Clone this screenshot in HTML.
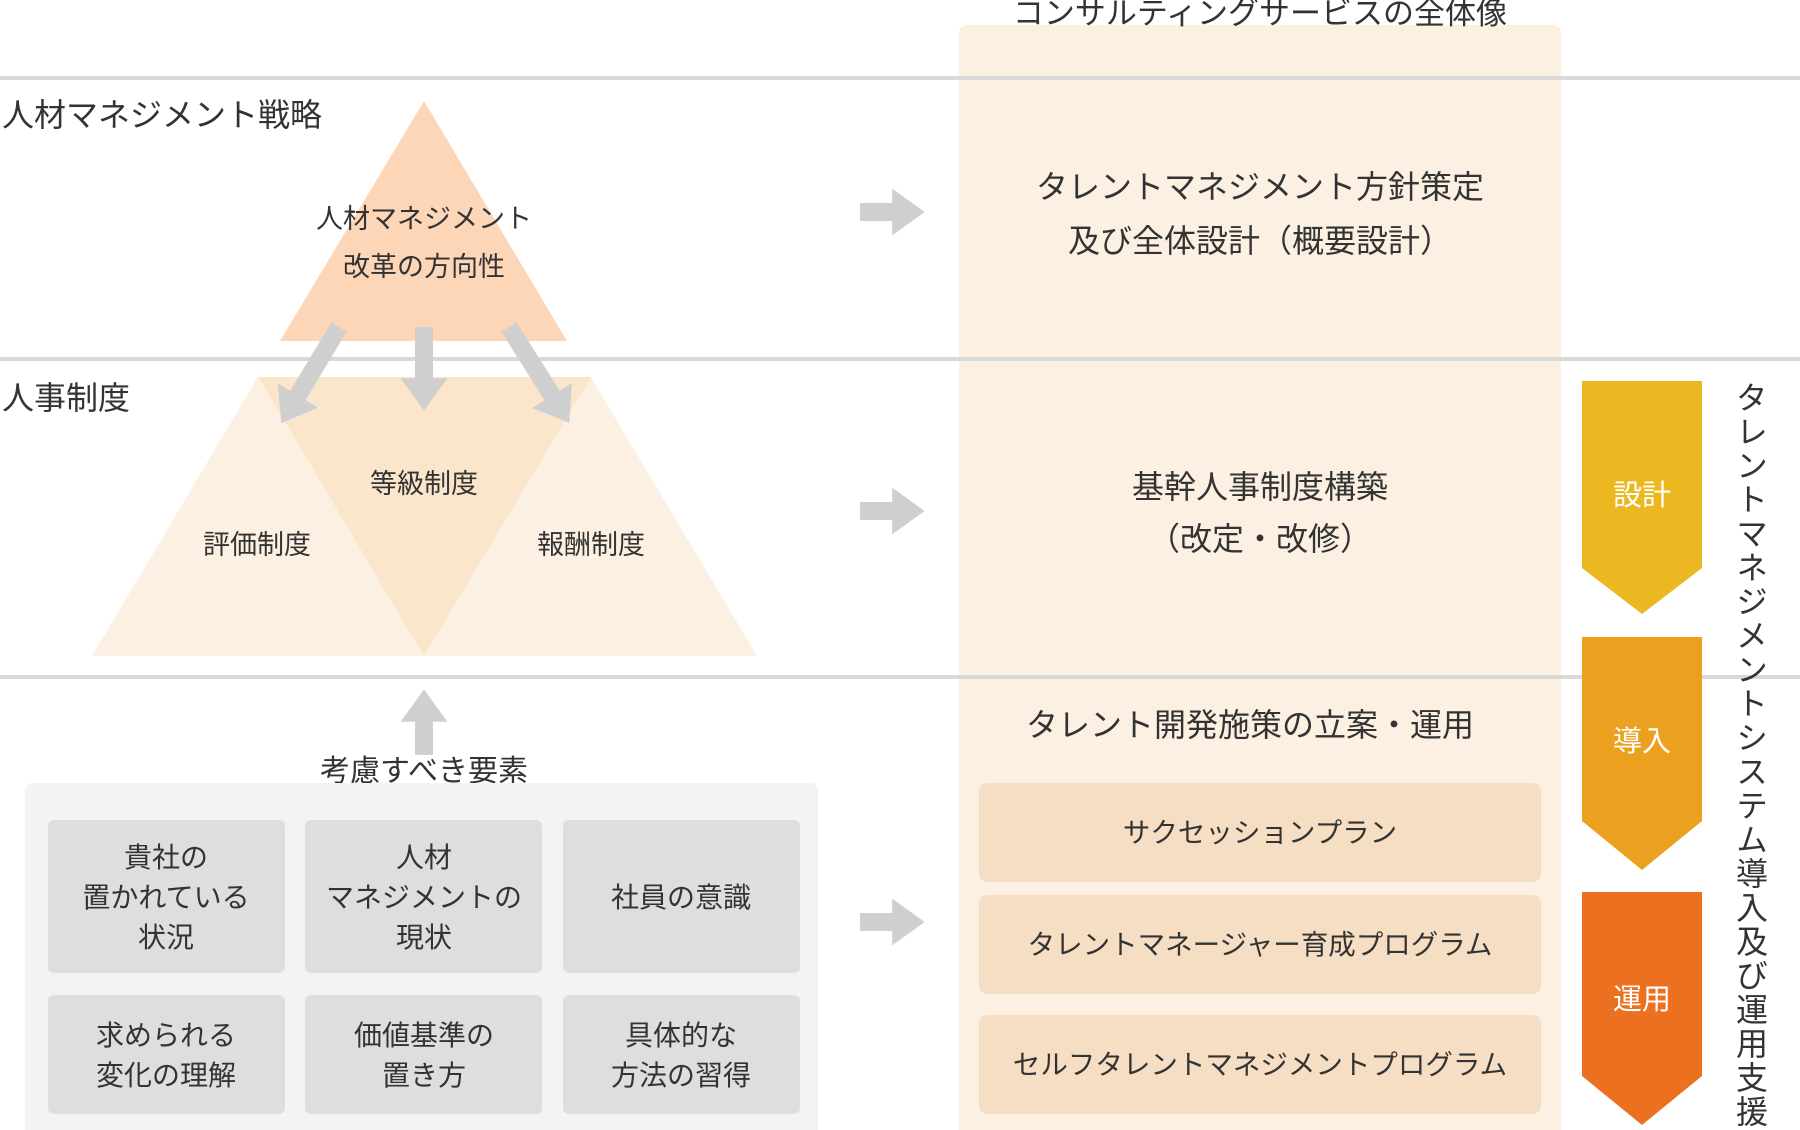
<!DOCTYPE html>
<html><head><meta charset="utf-8"><style>
html,body{margin:0;padding:0;background:#fff;}
svg{display:block;}
text{font-family:"Liberation Sans","Noto Sans CJK JP",sans-serif;fill:#333;}
</style></head><body>
<svg width="1800" height="1130" viewBox="0 0 1800 1130" xmlns="http://www.w3.org/2000/svg">
<defs>
<marker id="ah" markerWidth="1.8" markerHeight="2.6" refX="0.1" refY="1.3" orient="auto" markerUnits="strokeWidth">
<path d="M0,0 L1.8,1.3 L0,2.6 Z" fill="#cfcfcf"/></marker>
</defs>
<rect x="959" y="25" width="602" height="1120" rx="8" fill="#fcf0e3"/>
<rect x="0" y="76" width="1800" height="4" fill="#d9d9d9"/>
<rect x="0" y="357" width="1800" height="4" fill="#d9d9d9"/>
<rect x="0" y="675" width="1800" height="4" fill="#d9d9d9"/>
<text x="1260" y="24" font-size="31" text-anchor="middle">コンサルティングサービスの全体像</text>

<text x="2" y="126" font-size="32">人材マネジメント戦略</text>
<text x="2" y="409" font-size="32">人事制度</text>

<polygon points="424,101 567,341 280,341" fill="#fdd5b7"/>
<polygon points="258,377 424,656 92,656" fill="#fcf0e3"/>
<polygon points="591,377 757,656 424,656" fill="#fcf0e3"/>
<polygon points="258,377 591,377 424,656" fill="#fbe5cb"/>
<text x="424" y="228" font-size="27" text-anchor="middle">人材マネジメント</text>
<text x="424" y="276" font-size="27" text-anchor="middle">改革の方向性</text>
<text x="424" y="493" font-size="27" text-anchor="middle">等級制度</text>
<text x="257" y="554" font-size="27" text-anchor="middle">評価制度</text>
<text x="591" y="554" font-size="27" text-anchor="middle">報酬制度</text>

<g stroke="#cfcfcf" stroke-width="18" fill="none">
<line x1="339" y1="327" x2="297" y2="397" marker-end="url(#ah)"/>
<line x1="424" y1="327" x2="424" y2="380" marker-end="url(#ah)"/>
<line x1="509" y1="327" x2="553" y2="397" marker-end="url(#ah)"/>
<line x1="424" y1="755" x2="424" y2="720" marker-end="url(#ah)"/>
<line x1="860" y1="212" x2="894" y2="212" marker-end="url(#ah)"/>
<line x1="860" y1="511" x2="894" y2="511" marker-end="url(#ah)"/>
<line x1="860" y1="922" x2="894" y2="922" marker-end="url(#ah)"/>
</g>

<text x="424" y="781" font-size="30" text-anchor="middle">考慮すべき要素</text>
<rect x="25" y="783" width="793" height="360" rx="8" fill="#f3f3f3"/>
<g fill="#dedede">
<rect x="48" y="820" width="237" height="153" rx="6"/>
<rect x="305" y="820" width="237" height="153" rx="6"/>
<rect x="563" y="820" width="237" height="153" rx="6"/>
<rect x="48" y="995" width="237" height="119" rx="6"/>
<rect x="305" y="995" width="237" height="119" rx="6"/>
<rect x="563" y="995" width="237" height="119" rx="6"/>
</g>
<g font-size="28" text-anchor="middle">
<text x="166" y="867">貴社の</text><text x="166" y="907">置かれている</text><text x="166" y="947">状況</text>
<text x="424" y="867">人材</text><text x="424" y="907">マネジメントの</text><text x="424" y="947">現状</text>
<text x="681" y="907">社員の意識</text>
<text x="166" y="1045">求められる</text><text x="166" y="1085">変化の理解</text>
<text x="424" y="1045">価値基準の</text><text x="424" y="1085">置き方</text>
<text x="681" y="1045">具体的な</text><text x="681" y="1085">方法の習得</text>
</g>

<g font-size="32" text-anchor="middle">
<text x="1260" y="198">タレントマネジメント方針策定</text>
<text x="1260" y="252">及び全体設計（概要設計）</text>
<text x="1260" y="498">基幹人事制度構築</text>
<text x="1260" y="550">（改定・改修）</text>
<text x="1250" y="736">タレント開発施策の立案・運用</text>
</g>
<g fill="#f5dec3">
<rect x="979" y="783" width="562" height="99" rx="8"/>
<rect x="979" y="895" width="562" height="99" rx="8"/>
<rect x="979" y="1015" width="562" height="99" rx="8"/>
</g>
<g font-size="27.5" text-anchor="middle">
<text x="1260" y="842">サクセッションプラン</text>
<text x="1260" y="954">タレントマネージャー育成プログラム</text>
<text x="1260" y="1074">セルフタレントマネジメントプログラム</text>
</g>

<polygon points="1582,381 1702,381 1702,568 1642,614 1582,568" fill="#ebb821"/>
<polygon points="1582,637 1702,637 1702,821 1642,870 1582,821" fill="#eca020"/>
<polygon points="1582,892 1702,892 1702,1076 1642,1125 1582,1076" fill="#eb7120"/>
<text x="1642" y="505" font-size="29" text-anchor="middle" style="fill:#fff">設計</text>
<text x="1642" y="751" font-size="29" text-anchor="middle" style="fill:#fff">導入</text>
<text x="1642" y="1009" font-size="29" text-anchor="middle" style="fill:#fff">運用</text>
<text x="1750" y="381" font-size="32" style="writing-mode:vertical-rl" letter-spacing="2">タレントマネジメントシステム導入及び運用支援</text>
</svg>
</body></html>
